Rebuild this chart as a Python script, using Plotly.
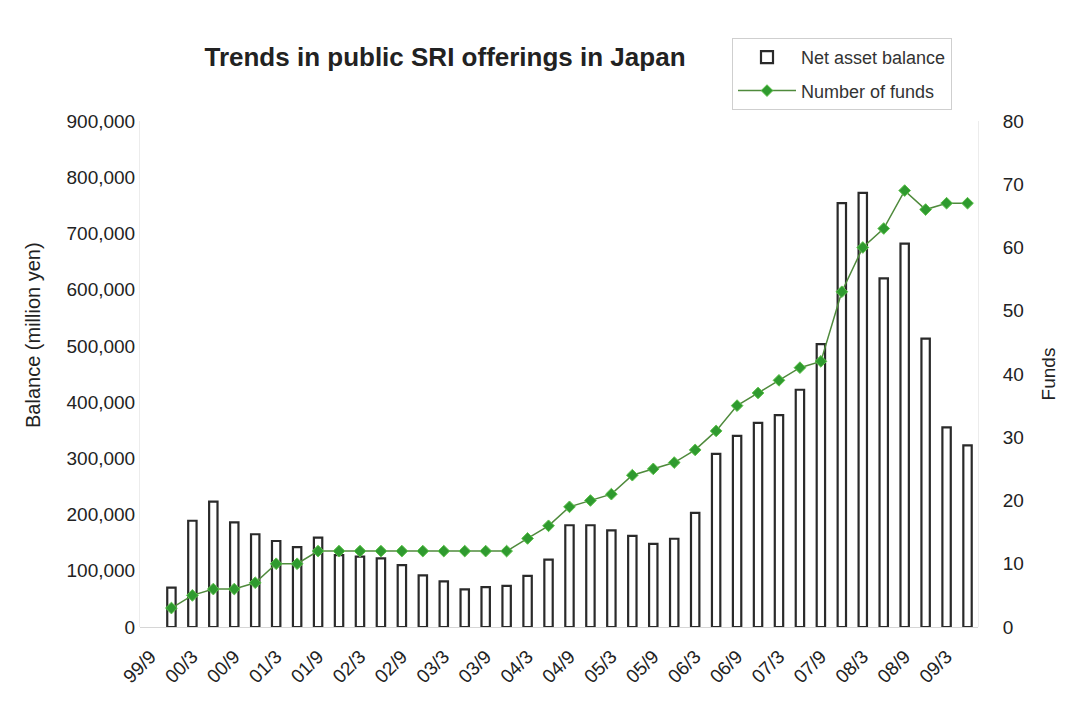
import plotly.graph_objects as go

# Quarter-end labels (yy/m)
quarters = ["99/9", "99/12", "00/3", "00/6", "00/9", "00/12", "01/3", "01/6",
            "01/9", "01/12", "02/3", "02/6", "02/9", "02/12", "03/3", "03/6",
            "03/9", "03/12", "04/3", "04/6", "04/9", "04/12", "05/3", "05/6",
            "05/9", "05/12", "06/3", "06/6", "06/9", "06/12", "07/3", "07/6",
            "07/9", "07/12", "08/3", "08/6", "08/9", "08/12", "09/3", "09/6"]

# Net asset balance (million yen)
balance = [None, 70000, 189000, 223000, 186000, 165000, 153000, 142000, 159000, 128000,
           125000, 122000, 110000, 92000, 81000, 67000, 71000, 73000, 91000, 120000,
           181000, 181000, 172000, 162000, 148000, 157000, 203000, 308000, 340000, 363000,
           377000, 422000, 503000, 754000, 772000, 620000, 682000, 513000, 355000, 323000]

# Number of funds
funds = [None, 3, 5, 6, 6, 7, 10, 10, 12, 12,
         12, 12, 12, 12, 12, 12, 12, 12, 14, 16,
         19, 20, 21, 24, 25, 26, 28, 31, 35, 37,
         39, 41, 42, 53, 60, 63, 69, 66, 67, 67]

tick_labels = quarters[::2]
balance_ticks = list(range(0, 900001, 100000))
funds_ticks = list(range(0, 81, 10))

FONT = "Liberation Sans, Arial, sans-serif"
TEXT = "#222222"

fig = go.Figure()
fig.add_trace(go.Bar(
    x=quarters, y=balance, name="Net asset balance",
    marker=dict(color="white", line=dict(color="#2a2a2a", width=2.2)),
    width=0.4, legendgroup="a",
))
fig.add_trace(go.Scatter(
    x=quarters, y=funds, name="Number of funds", yaxis="y2",
    mode="lines+markers",
    line=dict(color="#4f8a3c", width=1.5),
    marker=dict(symbol="diamond", size=9, color="#2f9a2f",
                line=dict(color="#5cc24a", width=1)),
    legendgroup="b",
))

# Left axis title, placed as a rotated annotation
fig.add_annotation(text="Balance (million yen)", xref="paper", yref="paper",
                   x=(33 - 140) / 838, y=(627 - 335) / 506, textangle=-90,
                   showarrow=False, font=dict(size=20, color=TEXT),
                   xanchor="center", yanchor="middle")

fig.update_layout(
    width=1083, height=710,
    margin=dict(l=140, r=105, t=121, b=83),
    paper_bgcolor="white", plot_bgcolor="white",
    font=dict(family=FONT, size=19, color=TEXT),
    title=dict(text="<b>Trends in public SRI offerings in Japan</b>",
               font=dict(size=26, color=TEXT),
               x=445 / 1083, xanchor="center", y=1 - 57 / 710, yanchor="middle"),
    showlegend=True,
    legend=dict(x=(732 - 140) / 838, y=(627 - 38) / 506, xanchor="left", yanchor="top",
                bgcolor="white", bordercolor="#cfcfcf", borderwidth=1,
                font=dict(size=18, color="#333333"), tracegroupgap=7,
                itemwidth=58),
    xaxis=dict(type="category", categoryorder="array", categoryarray=quarters,
               range=[-0.5, 39.5], tickmode="array", tickvals=tick_labels,
               ticktext=tick_labels, tickangle=-45, tickfont=dict(size=19),
               showgrid=False, showline=False,
               ticks="outside", ticklen=10, tickcolor="rgba(0,0,0,0)"),
    yaxis=dict(range=[0, 900000], tickvals=balance_ticks, tickformat=",",
               showgrid=False, zeroline=True, zerolinecolor="#d6d6d6", zerolinewidth=1,
               showline=True, linecolor="#ececec", ticks=""),
    yaxis2=dict(range=[0, 80], tickvals=funds_ticks, overlaying="y", side="right",
                showgrid=False, zeroline=False, showline=True, linecolor="#ececec",
                ticks="outside", ticklen=20, tickcolor="rgba(0,0,0,0)",
                title=dict(text="Funds", font=dict(size=19), standoff=18)),
)

fig.write_html("out.html")
